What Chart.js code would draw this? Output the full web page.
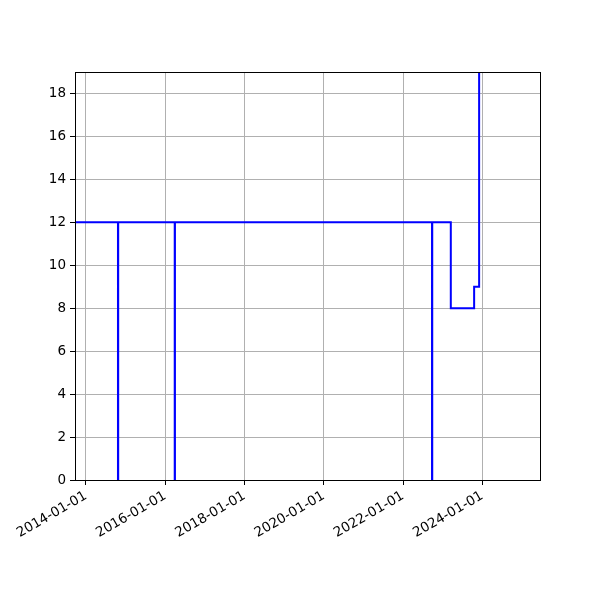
<!DOCTYPE html>
<html>
<head>
<meta charset="utf-8">
<script src="https://cdn.jsdelivr.net/npm/chart.js@4/dist/chart.umd.min.js"></script>
<style>
  html, body { margin: 0; padding: 0; background: #fff; }
  #chart { display: block; }
</style>
</head>
<body>
<canvas id="chart" width="600" height="600"></canvas>
<script>
// step data: each value holds from its date until the next date
const dates  = ['2013-09-22', '2014-10-23', '2014-10-25', '2016-03-29', '2016-03-31',
                '2022-09-25', '2022-09-27', '2023-03-17', '2023-10-18', '2023-12-03'];
const values = [12, 0, 12, 0, 12, 0, 12, 8, 9, 25];

const xTickLabels = ['2014-01-01', '2016-01-01', '2018-01-01', '2020-01-01', '2022-01-01', '2024-01-01'];
const yTicks = [0, 2, 4, 6, 8, 10, 12, 14, 16, 18];
const xMin = '2013-09-22', xMax = '2025-06-16';
const yMin = 0, yMax = 19;

const toMs = s => Date.parse(s + 'T00:00:00Z');

// full box around the plot area, like matplotlib spines
const frame = {
  id: 'frame',
  afterDraw(chart) {
    const { ctx, chartArea: a } = chart;
    ctx.save();
    ctx.strokeStyle = '#000';
    ctx.lineWidth = 1;
    ctx.strokeRect(a.left + 0.5, a.top + 0.5, a.right - a.left, a.bottom - a.top);
    ctx.restore();
  }
};

Chart.defaults.font.family = 'DejaVu Sans';
Chart.defaults.font.size = 13.5;
Chart.defaults.color = '#000';

new Chart(document.getElementById('chart'), {
  type: 'line',
  data: {
    datasets: [{
      data: dates.map((d, i) => ({ x: toMs(d), y: values[i] })),
      borderColor: '#0000ff',
      borderWidth: 2,
      pointRadius: 0,
      stepped: true,
      fill: false
    }]
  },
  options: {
    responsive: false,
    animation: false,
    events: [],
    layout: { padding: { top: 72, right: 60, left: 0, bottom: 0 } },
    plugins: { legend: { display: false }, tooltip: { enabled: false } },
    scales: {
      x: {
        type: 'linear',
        min: toMs(xMin),
        max: toMs(xMax),
        afterBuildTicks: s => { s.ticks = xTickLabels.map(t => ({ value: toMs(t) })); },
        afterFit: s => { s.height = 120; },
        ticks: {
          minRotation: 30,
          maxRotation: 30,
          padding: 3,
          autoSkip: false,
          callback: v => new Date(v).toISOString().slice(0, 10)
        },
        grid: { color: '#b0b0b0', lineWidth: 1, tickColor: '#000', tickLength: 5 },
        border: { display: false }
      },
      y: {
        type: 'linear',
        min: yMin,
        max: yMax,
        afterBuildTicks: s => { s.ticks = yTicks.map(v => ({ value: v })); },
        afterFit: s => { s.width = 75; },
        ticks: { padding: 4, autoSkip: false },
        grid: { color: '#b0b0b0', lineWidth: 1, tickColor: '#000', tickLength: 5 },
        border: { display: false }
      }
    }
  },
  plugins: [frame]
});
</script>
</body>
</html>
